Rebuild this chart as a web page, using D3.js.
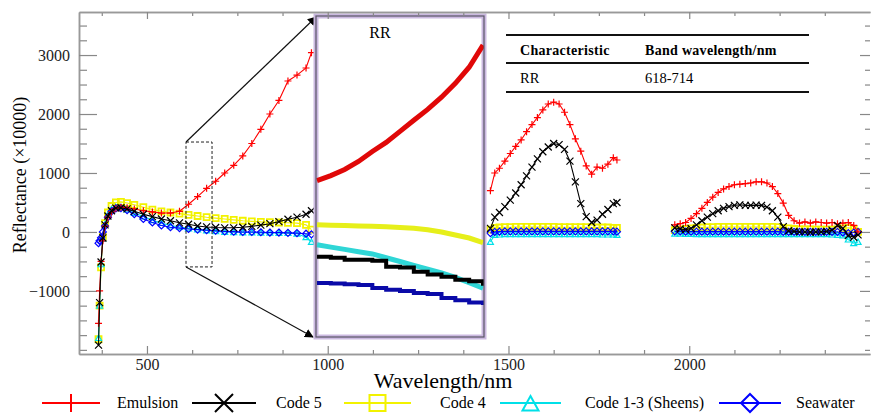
<!DOCTYPE html>
<html lang="en">
<head>
<meta charset="utf-8">
<title>Reflectance spectra</title>
<script src="https://d3js.org/d3.v7.min.js"></script>
<style>
  body { margin: 0; background: #fff; }
  svg text { font-family: "Liberation Serif", "Times New Roman", Times, "Nimbus Roman", "DejaVu Serif", serif !important; }
</style>
</head>
<body>
<div id="chart"></div>
<script>

// ---- data (reflectance x10000) ----
// window 1: visible / NIR
var wl1 = [366, 369, 373, 378, 384, 392, 402, 414, 428, 445, 465, 490, 515, 540, 565, 590, 615, 640, 665, 690, 715, 740, 765, 790, 815, 840, 865, 890, 915, 940, 955];
var emulsion1 = [-1550, -1000, -500, -150, 100, 250, 340, 400, 420, 410, 390, 360, 340, 320, 320, 350, 470, 600, 740, 860, 1000, 1130, 1290, 1500, 1740, 2000, 2230, 2560, 2660, 2780, 3040];
var code5_1 = [-1920, -1200, -510, -100, 120, 270, 360, 405, 410, 390, 350, 300, 260, 220, 190, 155, 130, 100, 85, 75, 70, 70, 80, 95, 115, 140, 175, 215, 250, 300, 360];
var code4_1 = [-1820, -1250, -600, -80, 150, 330, 440, 500, 510, 490, 460, 420, 380, 350, 330, 310, 290, 270, 250, 235, 220, 205, 190, 180, 170, 165, 160, 155, 150, 120, 40];
var sheens1 = [-1800, -1250, -550, -120, 130, 290, 380, 420, 415, 380, 320, 260, 200, 150, 110, 85, 60, 40, 25, 10, 0, -5, -10, -10, -15, -15, -20, -20, -30, -90, -170];
var seawater1 = [-190, -150, -100, 0, 100, 250, 350, 400, 405, 370, 300, 220, 160, 110, 80, 65, 50, 40, 30, 20, 10, 5, 0, 0, -5, -10, -10, -15, -20, -30, -40];

// window 2: SWIR 1
var wl2 = [1450, 1462, 1475, 1490, 1505, 1520, 1535, 1550, 1565, 1580, 1595, 1610, 1625, 1640, 1655, 1670, 1685, 1700, 1715, 1730, 1745, 1760, 1775, 1790, 1800];
var emulsion2 = [700, 1000, 1080, 1200, 1330, 1450, 1560, 1700, 1820, 1940, 2070, 2170, 2200, 2170, 2030, 1820, 1580, 1370, 1120, 980, 1100, 1080, 1150, 1260, 1220];
var code5_2 = [60, 250, 330, 430, 540, 660, 800, 950, 1100, 1240, 1360, 1440, 1500, 1480, 1400, 1200, 850, 480, 260, 160, 200, 300, 380, 480, 500];
var code4_2 = [40, 70, 75, 80, 80, 85, 85, 85, 85, 85, 85, 85, 85, 80, 80, 80, 80, 80, 80, 75, 75, 75, 75, 70, 70];
var sheens2 = [-170, -50, -45, -40, -40, -40, -40, -40, -40, -40, -40, -40, -40, -40, -40, -40, -40, -40, -40, -40, -40, -45, -45, -45, -50];
var seawater2 = [-20, 0, 5, 10, 10, 10, 10, 10, 10, 10, 10, 10, 10, 10, 10, 10, 10, 10, 10, 10, 10, 10, 10, 10, 5];

// window 3: SWIR 2
var wl3 = [1960, 1975, 1990, 2005, 2020, 2035, 2050, 2065, 2080, 2095, 2110, 2125, 2140, 2155, 2170, 2185, 2200, 2215, 2230, 2245, 2260, 2275, 2290, 2305, 2320, 2335, 2350, 2365, 2380, 2395, 2410, 2425, 2440, 2455, 2467];
var emulsion3 = [120, 140, 160, 230, 310, 400, 500, 590, 670, 730, 770, 800, 810, 820, 830, 850, 850, 830, 770, 650, 490, 280, 190, 150, 170, 150, 170, 160, 150, 160, 140, 150, 160, 110, 0];
var code5_3 = [70, 50, 40, 60, 120, 190, 250, 310, 360, 400, 430, 450, 460, 450, 450, 455, 450, 420, 360, 250, 90, 20, 10, 0, 0, -5, 0, 0, 10, 30, 110, 60, -60, -90, -50];
var code4_3 = [30, 40, 50, 60, 70, 75, 80, 80, 85, 85, 85, 85, 85, 85, 85, 85, 85, 85, 85, 80, 70, 60, 50, 45, 45, 45, 40, 40, 40, 40, 45, 60, 70, 50, 0];
var sheens3 = [-30, -30, -35, -35, -40, -40, -40, -40, -40, -40, -40, -40, -40, -40, -40, -40, -40, -40, -40, -40, -40, -40, -40, -40, -40, -40, -40, -40, -40, -45, -50, -60, -130, -190, -170];
var seawater3 = [10, 10, 5, 5, 5, 5, 5, 5, 5, 5, 5, 5, 5, 5, 5, 5, 5, 5, 5, 5, 0, 0, 0, 0, 0, 0, 0, 0, 0, 0, 0, -10, -20, -10, 0];

// zoomed RR band (inset)
var insetWl = [618, 626, 634, 642, 650, 658, 666, 674, 682, 690, 698, 706, 714];
var insetEmulsion = [439, 472, 512, 565, 631, 691, 764, 837, 909, 989, 1081, 1187, 1333];
var insetCode5 = [-64, -70, -84, -84, -90, -130, -135, -163, -180, -196, -216, -225, -255];
var insetCode4 = [148, 145, 142, 140, 138, 135, 130, 125, 115, 100, 80, 60, 30];
var insetSheens = [16, 0, -15, -30, -45, -70, -95, -120, -145, -170, -200, -235, -270];
var insetSeawater = [-236, -240, -245, -250, -270, -282, -290, -302, -310, -335, -350, -365, -382];

// ticks and labels
var xTicks = [500, 1000, 1500, 2000];
var yTicks = [-1000, 0, 1000, 2000, 3000];
var seriesNames = ["Emulsion", "Code 5", "Code 4", "Code 1-3 (Sheens)", "Seawater"];
var tableHead = ["Characteristic", "Band wavelength/nm"];
var tableRow = ["RR", "618-714"];

// ---- setup ----
var W = 872, H = 414;
var pLeft = 79, pRight = 870, pTop = 12, pBottom = 354;

var svg = d3.select("#chart")
  .append("svg")
    .attr("width", W)
    .attr("height", H);

var x = d3.scaleLinear().domain([312, 2500]).range([pLeft, pRight]);
var y = d3.scaleLinear().domain([-2070, 3730]).range([pBottom, pTop]);

var series = [
  { name: seriesNames[0], color: "#ff0000", mark: "plus",     segs: [[wl1, emulsion1], [wl2, emulsion2], [wl3, emulsion3]], inset: insetEmulsion, insetColor: "#e00808", iw: 5 },
  { name: seriesNames[1], color: "#000000", mark: "times",    segs: [[wl1, code5_1], [wl2, code5_2], [wl3, code5_3]],         inset: insetCode5,    insetColor: "#000000", iw: 4, step: true },
  { name: seriesNames[2], color: "#f2f200", mark: "square",   segs: [[wl1, code4_1], [wl2, code4_2], [wl3, code4_3]],         inset: insetCode4,    insetColor: "#e6ef1a", iw: 5 },
  { name: seriesNames[3], color: "#00e0e8", mark: "triangle", segs: [[wl1, sheens1], [wl2, sheens2], [wl3, sheens3]],         inset: insetSheens,   insetColor: "#2fd6d6", iw: 5 },
  { name: seriesNames[4], color: "#0000ff", mark: "diamond",  segs: [[wl1, seawater1], [wl2, seawater2], [wl3, seawater3]],   inset: insetSeawater, insetColor: "#0a0aa8", iw: 4, step: true }
];

function markPath(type, s) {
  var h = s / 2;
  if (type == "plus") return "M" + (-h) + ",0H" + h + "M0," + (-h) + "V" + h;
  if (type == "times") return "M" + (-h) + "," + (-h) + "L" + h + "," + h + "M" + (-h) + "," + h + "L" + h + "," + (-h);
  if (type == "square") return "M" + (-h) + "," + (-h) + "H" + h + "V" + h + "H" + (-h) + "Z";
  if (type == "triangle") return "M0," + (-h) + "L" + h + "," + (h * 0.8) + "L" + (-h) + "," + (h * 0.8) + "Z";
  return "M0," + (-h) + "L" + h + ",0L0," + h + "L" + (-h) + ",0Z";
}

// ---- axes ----
function styleAxis(g) {
  g.attr("font-family", null);
  g.select(".domain").attr("stroke", "#999").attr("stroke-width", 1.5);
  g.selectAll(".tick line").attr("stroke", "#888").attr("stroke-width", 1.2);
  g.selectAll("text")
    .attr("fill", "#222")
    .style("font-size", "16px");
}

var fmt = d3.format("d");
var minorX = d3.range(375, 2500, 125).filter(function(v) { return xTicks.indexOf(v) < 0; });
var minorY = d3.range(-2000, 3750, 250).filter(function(v) { return yTicks.indexOf(v) < 0; });

svg.append("g").attr("transform", "translate(0," + pBottom + ")")
  .call(d3.axisBottom(x).tickValues(minorX).tickSize(-4).tickSizeOuter(0).tickFormat(""))
  .call(styleAxis);
svg.append("g").attr("transform", "translate(0," + pBottom + ")")
  .call(d3.axisBottom(x).tickValues(xTicks).tickSize(-8).tickSizeOuter(0).tickPadding(5).tickFormat(fmt))
  .call(styleAxis);

svg.append("g").attr("transform", "translate(" + pLeft + ",0)")
  .call(d3.axisLeft(y).tickValues(minorY).tickSize(-8).tickSizeOuter(0).tickFormat(""))
  .call(styleAxis);
svg.append("g").attr("transform", "translate(" + pLeft + ",0)")
  .call(d3.axisLeft(y).tickValues(yTicks).tickSize(-18).tickSizeOuter(0).tickPadding(9).tickFormat(fmt))
  .call(styleAxis);

var rightAxis = svg.append("g").attr("transform", "translate(" + pRight + ",0)")
  .call(d3.axisRight(y).tickValues(minorY).tickSize(-5).tickSizeOuter(0).tickFormat(""))
  .call(styleAxis);
rightAxis.select(".domain").remove();
var rightAxis2 = svg.append("g").attr("transform", "translate(" + pRight + ",0)")
  .call(d3.axisRight(y).tickValues(yTicks).tickSize(-10).tickSizeOuter(0).tickFormat(""))
  .call(styleAxis);
rightAxis2.select(".domain").remove();

// axis titles
svg.append("text")
  .attr("x", 443).attr("y", 388)
  .attr("text-anchor", "middle")
  .style("font-size", "22px")
  .text("Wavelength/nm");

svg.append("text")
  .attr("transform", "translate(26,175) rotate(-90)")
  .attr("text-anchor", "middle")
  .style("font-size", "18px")
  .text("Reflectance (\u00d710000)");

// ---- spectra ----
var line = d3.line()
  .x(function(d) { return x(d[0]); })
  .y(function(d) { return y(d[1]); });

var drawOrder = [2, 3, 4, 0, 1];
drawOrder.forEach(function(i) {
  var s = series[i];
  var g = svg.append("g");
  s.segs.forEach(function(seg) {
    var pts = seg[0].map(function(w, k) { return [w, seg[1][k]]; });
    g.append("path")
      .datum(pts)
      .attr("d", line)
      .attr("fill", "none")
      .attr("stroke", s.color)
      .attr("stroke-width", 1.1);
    g.selectAll(null)
      .data(pts)
      .enter()
      .append("path")
        .attr("transform", function(d) { return "translate(" + x(d[0]) + "," + y(d[1]) + ")"; })
        .attr("d", markPath(s.mark, s.mark == "plus" || s.mark == "times" || s.mark == "diamond" ? 7 : 6))
        .attr("fill", "none")
        .attr("stroke", s.color)
        .attr("stroke-width", s.mark == "square" ? 1.8 : 1.2);
  });
});

// ---- zoom box + arrows ----
var insetBox = { x0: 316, x1: 484, y0: 16, y1: 337 };
var bx0 = x(608), bx1 = x(680), by0 = y(1525), by1 = y(-593);

svg.append("defs").append("marker")
    .attr("id", "arrow")
    .attr("viewBox", "0 -5 10 10")
    .attr("refX", 9).attr("refY", 0)
    .attr("markerWidth", 9).attr("markerHeight", 9)
    .attr("markerUnits", "userSpaceOnUse")
    .attr("orient", "auto")
  .append("path")
    .attr("d", "M0,-5L10,0L0,5Z")
    .attr("fill", "#000");

svg.append("rect")
  .attr("x", bx0).attr("y", by0)
  .attr("width", bx1 - bx0).attr("height", by1 - by0)
  .attr("fill", "none")
  .attr("stroke", "#222")
  .attr("stroke-width", 1)
  .attr("stroke-dasharray", "3,2");

svg.append("line")
  .attr("x1", bx0).attr("y1", by0).attr("x2", insetBox.x0).attr("y2", insetBox.y0 + 1)
  .attr("stroke", "#111").attr("stroke-width", 1.2)
  .attr("marker-end", "url(#arrow)");
svg.append("line")
  .attr("x1", bx0).attr("y1", by1).attr("x2", insetBox.x0 - 3).attr("y2", insetBox.y1)
  .attr("stroke", "#111").attr("stroke-width", 1.2)
  .attr("marker-end", "url(#arrow)");

// ---- inset ----
var ix = d3.scaleLinear().domain([618, 714]).range([insetBox.x0 + 1, insetBox.x1 - 1]);
var iy = d3.scaleLinear().domain([-593, 1525]).range([insetBox.y1, insetBox.y0]);

svg.append("rect")
  .attr("x", insetBox.x0).attr("y", insetBox.y0)
  .attr("width", insetBox.x1 - insetBox.x0).attr("height", insetBox.y1 - insetBox.y0)
  .attr("fill", "#fff")
  .attr("stroke", "#cbb9e0")
  .attr("stroke-width", 5);

svg.append("clipPath").attr("id", "insetClip")
  .append("rect")
    .attr("x", insetBox.x0).attr("y", insetBox.y0)
    .attr("width", insetBox.x1 - insetBox.x0).attr("height", insetBox.y1 - insetBox.y0);

var insetG = svg.append("g").attr("clip-path", "url(#insetClip)");
[2, 3, 1, 4, 0].forEach(function(i) {
  var s = series[i];
  var pts = insetWl.map(function(w, k) { return [w, s.inset[k]]; });
  insetG.append("path")
    .datum(pts)
    .attr("d", d3.line()
      .curve(s.step ? d3.curveStepAfter : d3.curveLinear)
      .x(function(d) { return ix(d[0]); })
      .y(function(d) { return iy(d[1]); }))
    .attr("fill", "none")
    .attr("stroke", s.insetColor)
    .attr("stroke-width", s.iw);
});

svg.append("rect")
  .attr("x", insetBox.x0).attr("y", insetBox.y0)
  .attr("width", insetBox.x1 - insetBox.x0).attr("height", insetBox.y1 - insetBox.y0)
  .attr("fill", "none")
  .attr("stroke", "#5a5566")
  .attr("stroke-width", 1.2);

svg.append("text")
  .attr("x", 380).attr("y", 38)
  .attr("text-anchor", "middle")
  .style("font-size", "16px")
  .text("RR");

// top axis on top of the inset frame
svg.append("g").attr("transform", "translate(0," + pTop + ")")
  .call(d3.axisTop(x).tickValues(minorX).tickSize(-4).tickSizeOuter(0).tickFormat(""))
  .call(styleAxis);
svg.append("g").attr("transform", "translate(0," + pTop + ")")
  .call(d3.axisTop(x).tickValues(xTicks).tickSize(-7).tickSizeOuter(0).tickFormat(""))
  .call(styleAxis);

// ---- band table ----
var tbl = svg.append("g");
[35, 63, 92].forEach(function(ty) {
  tbl.append("line")
    .attr("x1", 506).attr("x2", 809)
    .attr("y1", ty).attr("y2", ty)
    .attr("stroke", "#111").attr("stroke-width", 1.8);
});
tbl.selectAll(".head")
  .data(tableHead)
  .enter().append("text")
    .attr("x", function(d, i) { return i == 0 ? 520 : 645; })
    .attr("y", 55)
    .style("font-size", "14px")
    .style("font-weight", "bold")
    .style("letter-spacing", "0.3px")
    .text(function(d) { return d; });
tbl.selectAll(".row")
  .data(tableRow)
  .enter().append("text")
    .attr("x", function(d, i) { return i == 0 ? 520 : 645; })
    .attr("y", 83)
    .style("font-size", "14.5px")
    .text(function(d) { return d; });

// ---- legend ----
var legendLayout = [
  { x0: 42, x1: 100, tx: 117 },
  { x0: 192, x1: 256, tx: 276 },
  { x0: 344, x1: 411, tx: 440 },
  { x0: 500, x1: 561, tx: 585 },
  { x0: 719, x1: 781, tx: 796 }
];
var ly = 403;
series.forEach(function(s, i) {
  var p = legendLayout[i];
  var cx = (p.x0 + p.x1) / 2;
  svg.append("line")
    .attr("x1", p.x0).attr("x2", p.x1)
    .attr("y1", ly).attr("y2", ly)
    .attr("stroke", s.color).attr("stroke-width", 2);
  svg.append("path")
    .attr("transform", "translate(" + cx + "," + (ly + (s.mark == "triangle" ? 1 : 0)) + ")")
    .attr("d", markPath(s.mark, s.mark == "square" || s.mark == "triangle" ? 16 : 18))
    .attr("fill", s.mark == "square" || s.mark == "triangle" || s.mark == "diamond" ? "#fff" : "none")
    .attr("stroke", s.color)
    .attr("stroke-width", 2);
  if (s.mark != "plus" && s.mark != "times") {
    // line through the hollow marker
    svg.append("line")
      .attr("x1", p.x0).attr("x2", p.x1)
      .attr("y1", ly).attr("y2", ly)
      .attr("stroke", s.color).attr("stroke-width", 2);
  }
  svg.append("text")
    .attr("x", p.tx).attr("y", ly + 5)
    .style("font-size", "16px")
    .text(s.name);
});

</script>
</body>
</html>
